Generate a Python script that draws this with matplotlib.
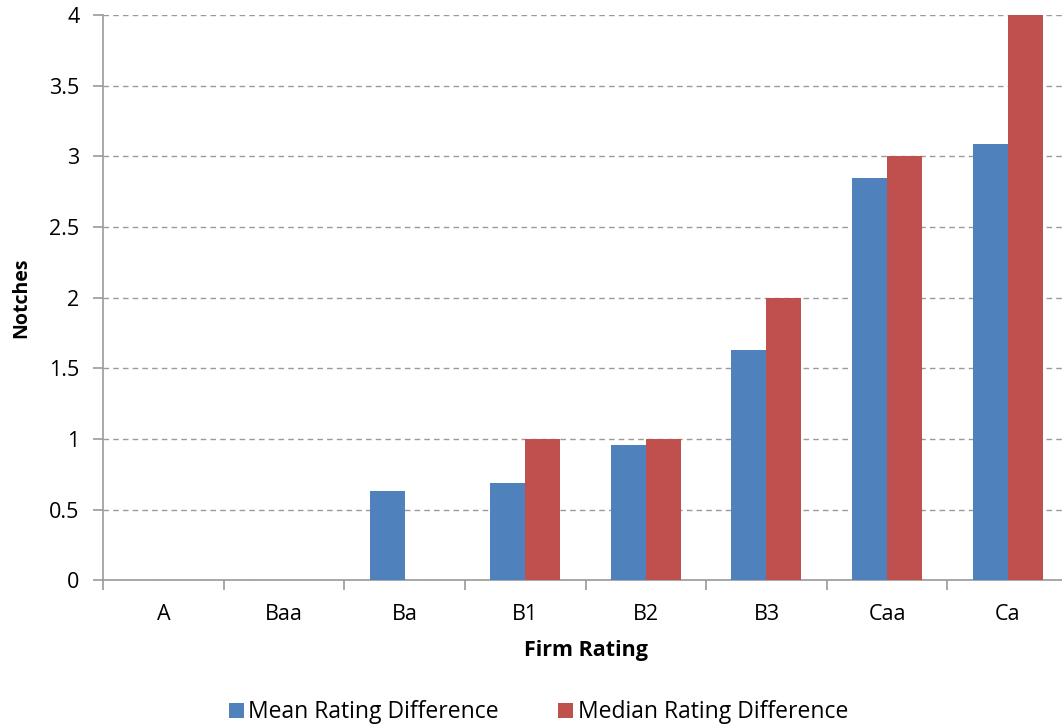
import numpy as np
import matplotlib
matplotlib.use("Agg")
from matplotlib import pyplot as plt

ratings = ["A", "Baa", "Ba", "B1", "B2", "B3", "Caa", "Ca"]
mean_diff = [-0.01, -0.01, 0.63, 0.69, 0.96, 1.63, 2.85, 3.09]
median_diff = [0, 0, 0, 1, 1, 2, 3, 4]

blue = "#4f81bd"
red = "#c0504d"
grey = "#9a9a9a"

plt.rcParams['font.family'] = ['Open Sans', 'DejaVu Sans']

fig = plt.figure(figsize=(10.62, 7.27), dpi=100)
# plot area runs slightly past the right edge of the figure
ax = fig.add_axes([0.097, 0.202, 0.9087, 0.777])

x = np.arange(len(ratings))
w = 0.29
ax.bar(x - w/2, mean_diff, w, color=blue, label="Mean Rating Difference", zorder=3)
ax.bar(x + w/2, median_diff, w, color=red, label="Median Rating Difference", zorder=3)

ax.set_xlim(-0.5, len(ratings) - 0.5)
ax.set_ylim(0, 4)
ax.set_yticks(np.arange(0, 4.01, 0.5))
ax.set_yticklabels(["0", "0.5", "1", "1.5", "2", "2.5", "3", "3.5", "4"])
ax.yaxis.grid(True, linestyle=(0, (4, 3)), color=grey, linewidth=1)
ax.set_axisbelow(True)

# category labels centred, ticks on the boundaries
ax.set_xticks(x)
ax.set_xticklabels(ratings)
ax.set_xticks(np.arange(-0.5, len(ratings), 1), minor=True)
ax.tick_params(axis="x", which="major", length=0, pad=17, labelsize=15.5)
ax.tick_params(axis="x", which="minor", length=7, color=grey, width=1.2)
ax.tick_params(axis="y", length=7, color=grey, width=1.2, pad=10, labelsize=15.5)

for s in ["top", "right"]:
    ax.spines[s].set_visible(False)
for s in ["left", "bottom"]:
    ax.spines[s].set_color(grey)
    ax.spines[s].set_linewidth(1.2)

ax.set_xlabel("Firm Rating", fontweight="bold", fontsize=15.5, labelpad=11)
ax.set_ylabel("Notches", fontweight="bold", fontsize=14, labelpad=13)

fig.legend(loc="center", bbox_to_anchor=(0.507, 0.02), ncol=2, frameon=False,
           fontsize=16.5, handlelength=0.65, handleheight=0.65, handletextpad=0.2,
           columnspacing=2.6)

plt.savefig("out.png", dpi=100)
